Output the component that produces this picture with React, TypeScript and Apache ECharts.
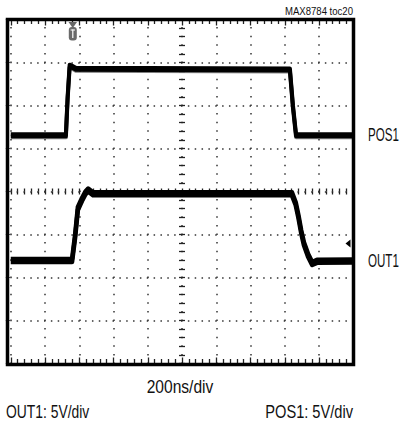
import React, { useEffect, useRef } from "react";
import * as echarts from "echarts";

// Time axis in ns (200 ns/div, 10 divisions); vertical axis in screen divisions (8 divisions)
const X_MIN = -1000;
const X_MAX = 1000;
const X_STEP = 200;
const Y_MIN = -4;
const Y_MAX = 4;
const Y_STEP = 1;

// POS1 trace (time ns, level in divisions)
const POS1_T = [-1000, -678, -668, -656, -644, -620, 630, 648, 666, 1000];
const POS1_V = [1.33, 1.33, 2.2, 2.95, 2.93, 2.88, 2.86, 2.0, 1.33, 1.33];

// OUT1 trace (time ns, level in divisions)
const OUT1_T = [-1000, -642, -624, -608, -584, -564, -548, -520, 642, 664, 680, 696, 712, 736, 760, 788, 1000];
const OUT1_V = [-1.57, -1.57, -1.0, -0.36, -0.15, 0.0, 0.07, -0.02, -0.02, -0.25, -0.55, -0.9, -1.18, -1.45, -1.64, -1.59, -1.58];

const TAG = "MAX8784 toc20";
const X_LABEL = "200ns/div";
const SCALE_LEFT = "OUT1: 5V/div";
const SCALE_RIGHT = "POS1: 5V/div";
const TRACE_NAMES = ["POS1", "OUT1"];

const FONT = "'Liberation Sans', Arial, sans-serif";

const zip = (a: number[], b: number[]) => a.map((v, i) => [v, b[i]]);

export default function App() {
  const ref = useRef<HTMLDivElement>(null);
  useEffect(() => {
    if (!ref.current) return;
    const chart = echarts.init(ref.current, null, { renderer: "svg" });
    const gridLeft = 10.75;
    const gridTop = 19.5;
    const gridW = 342.5;
    const gridH = 344;
    const dotX = gridW / 50;
    const dotY = gridH / 40;
    const tickColor = "#222";
    const baseX = {
      type: "value",
      min: X_MIN,
      max: X_MAX,
      interval: X_STEP,
      axisLabel: { show: false },
      splitLine: { show: false },
    };
    const baseY = {
      type: "value",
      min: Y_MIN,
      max: Y_MAX,
      interval: Y_STEP,
      axisLabel: { show: false },
      splitLine: { show: false },
    };
    const ticks = (inside: boolean, len: number, mlen: number) => ({
      axisTick: { show: true, inside, length: len, lineStyle: { color: tickColor, width: 1.3 } },
      minorTick: { show: true, splitNumber: 5, length: mlen, lineStyle: { color: tickColor, width: 1.3 } },
    });
    const noZero = { show: false, onZero: false };
    const onZero = { show: false, onZero: true, onZeroAxisIndex: 0 };
    const traceStyle = (w: number, off: number) => ({
      color: "#000",
      width: w,
      join: "round",
      shadowColor: "#000",
      shadowBlur: 0.5,
      shadowOffsetY: off,
    });
    const option: any = {
      animation: false,
      grid: { left: gridLeft, top: gridTop, width: gridW, height: gridH, show: false },
      xAxis: [
        {
          ...baseX,
          position: "bottom",
          axisLine: noZero,
          ...ticks(true, 6, 4.5),
          splitLine: {
            show: true,
            lineStyle: { color: "#333", width: 1.5, type: [1.5, dotY - 1.5], dashOffset: 0.75 },
          },
        },
        { ...baseX, position: "top", axisLine: noZero, ...ticks(true, 6, 4.5) },
        { ...baseX, position: "bottom", axisLine: onZero, ...ticks(true, 3, 3) },
        { ...baseX, position: "top", axisLine: onZero, ...ticks(true, 3, 3) },
      ],
      yAxis: [
        {
          ...baseY,
          position: "left",
          axisLine: noZero,
          splitLine: {
            show: true,
            lineStyle: { color: "#333", width: 1.5, type: [1.5, dotX - 1.5], dashOffset: 0.75 },
          },
        },
        { ...baseY, position: "left", offset: -gridW / 2, axisLine: noZero, ...ticks(true, 3, 3) },
        { ...baseY, position: "right", offset: -gridW / 2, axisLine: noZero, ...ticks(true, 3, 3) },
      ],
      series: [
        {
          name: TRACE_NAMES[0],
          type: "line",
          xAxisIndex: 0,
          yAxisIndex: 0,
          data: zip(POS1_T, POS1_V),
          showSymbol: false,
          lineStyle: traceStyle(4, 2.5),
          clip: true,
          z: 5,
        },
        {
          name: TRACE_NAMES[1],
          type: "line",
          xAxisIndex: 0,
          yAxisIndex: 0,
          data: zip(OUT1_T, OUT1_V),
          showSymbol: false,
          lineStyle: traceStyle(4.5, 3),
          clip: true,
          z: 5,
        },
      ],
      graphic: [
        {
          type: "rect",
          shape: { x: 7.5, y: 19.5, width: 346, height: 345 },
          style: { fill: "none", stroke: "#000", lineWidth: 3.5 },
          z: 100,
        },
        // trigger marker
        {
          type: "polygon",
          shape: { points: [[68.5, 22], [77, 22], [72.75, 28]] },
          style: { fill: "#666" },
          z: 90,
        },
        {
          type: "rect",
          shape: { x: 68.8, y: 27, width: 8, height: 13.5, r: 3 },
          style: { fill: "#6a6a6a" },
          z: 90,
        },
        {
          type: "line",
          shape: { x1: 72.8, y1: 29.5, x2: 72.8, y2: 38 },
          style: { stroke: "#fff", lineWidth: 1.2 },
          z: 91,
        },
        {
          type: "line",
          shape: { x1: 70.6, y1: 30, x2: 75, y2: 30 },
          style: { stroke: "#fff", lineWidth: 1 },
          z: 91,
        },
        // ground marker on right
        {
          type: "polygon",
          shape: { points: [[345.5, 243.5], [350.5, 239.5], [350.5, 247.5]] },
          style: { fill: "#000" },
          z: 90,
        },
        {
          type: "text",
          x: 353,
          y: 11.5,
          scaleX: 0.87,
          style: { text: TAG, fill: "#111", font: `11px ${FONT}`, align: "right", verticalAlign: "middle" },
        },
        {
          type: "text",
          x: 368,
          y: 134,
          scaleX: 0.61,
          style: { text: TRACE_NAMES[0], fill: "#111", font: `19px ${FONT}`, align: "left", verticalAlign: "middle" },
        },
        {
          type: "text",
          x: 368,
          y: 260,
          scaleX: 0.61,
          style: { text: TRACE_NAMES[1], fill: "#111", font: `19px ${FONT}`, align: "left", verticalAlign: "middle" },
        },
        {
          type: "text",
          x: 180,
          y: 386,
          scaleX: 0.82,
          style: { text: X_LABEL, fill: "#111", font: `19px ${FONT}`, align: "center", verticalAlign: "middle" },
        },
        {
          type: "text",
          x: 6,
          y: 412,
          scaleX: 0.73,
          style: { text: SCALE_LEFT, fill: "#111", font: `19px ${FONT}`, align: "left", verticalAlign: "middle" },
        },
        {
          type: "text",
          x: 353,
          y: 412,
          scaleX: 0.77,
          style: { text: SCALE_RIGHT, fill: "#111", font: `19px ${FONT}`, align: "right", verticalAlign: "middle" },
        },
      ],
    };
    chart.setOption(option);
    return () => chart.dispose();
  }, []);
  return <div ref={ref} style={{ width: 405, height: 427, position: "absolute", left: 0, top: 0 }} />;
}
